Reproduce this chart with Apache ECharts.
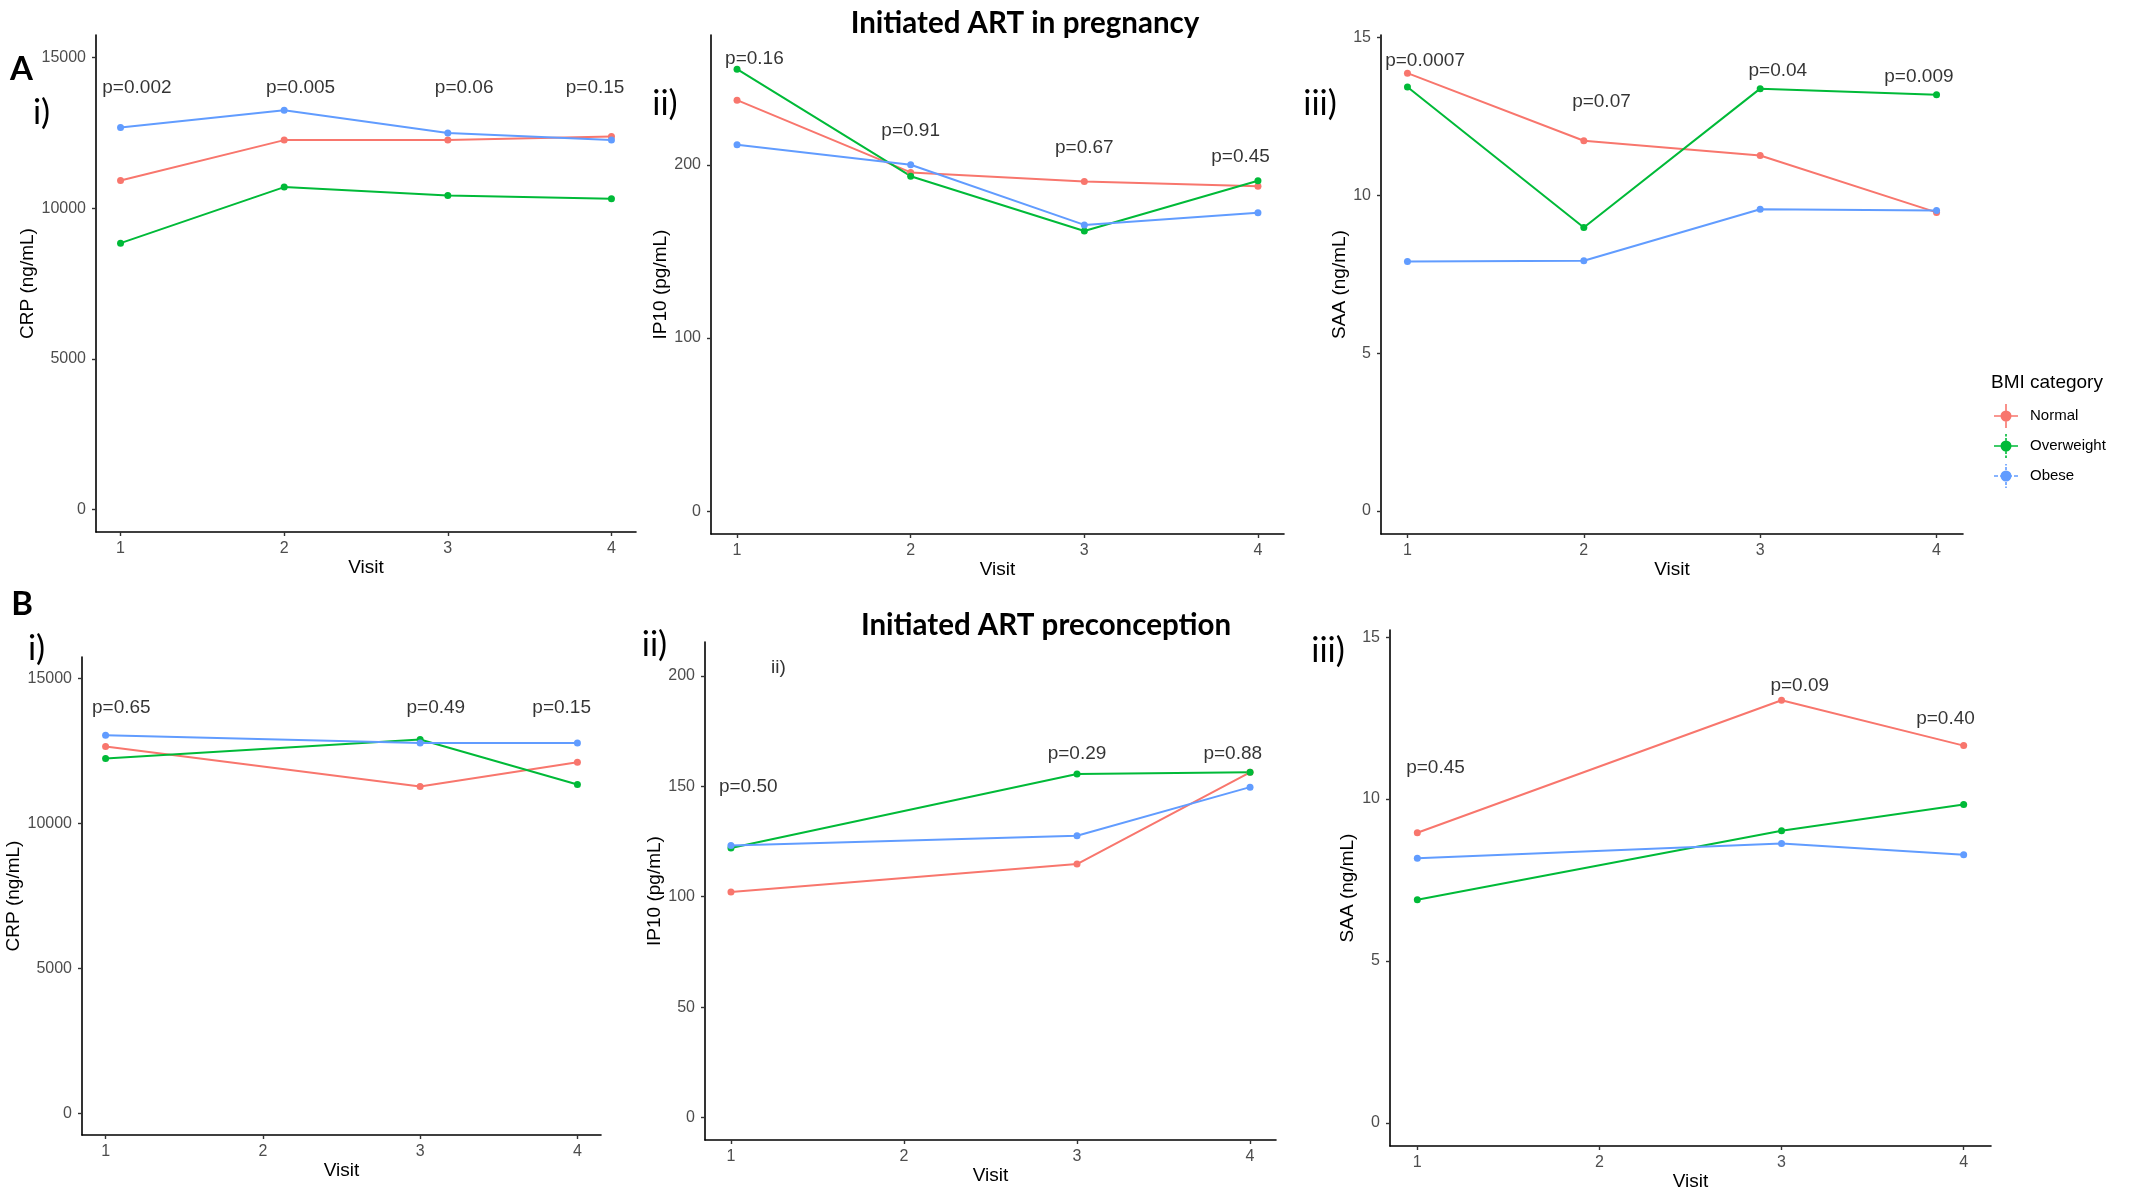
<!DOCTYPE html>
<html>
<head>
<meta charset="utf-8">
<script src="https://cdn.jsdelivr.net/npm/echarts@6/dist/echarts.min.js"></script>
<style>
  html, body { margin: 0; padding: 0; background: #fff; }
  #chart { width: 2129px; height: 1192px; }
</style>
</head>
<body>
<div id="chart"></div>
<script>
// visits
const visitsA = [1, 2, 3, 4];
const visitsB = [1, 3, 4];

// A i) CRP (ng/mL) - initiated ART in pregnancy
const crpA_normal = [10920, 12260, 12260, 12380];
const crpA_overweight = [8840, 10700, 10420, 10310];
const crpA_obese = [12680, 13250, 12500, 12260];
// A ii) IP10 (pg/mL)
const ip10A_normal = [237.3, 195.6, 190.4, 187.6];
const ip10A_overweight = [255.2, 193.4, 161.8, 190.8];
const ip10A_obese = [211.6, 200.0, 165.3, 172.3];
// A iii) SAA (ng/mL)
const saaA_normal = [13.87, 11.73, 11.26, 9.46];
const saaA_overweight = [13.43, 8.98, 13.38, 13.19];
const saaA_obese = [7.90, 7.93, 9.56, 9.52];

// B i) CRP - initiated ART preconception
const crpB_normal = [12660, 11280, 12120];
const crpB_overweight = [12250, 12900, 11350];
const crpB_obese = [13050, 12780, 12780];
// B ii) IP10
const ip10B_normal = [102.2, 114.8, 156.3];
const ip10B_overweight = [122.1, 155.6, 156.3];
const ip10B_obese = [123.2, 127.6, 149.6];
// B iii) SAA
const saaB_normal = [8.96, 13.05, 11.65];
const saaB_overweight = [6.89, 9.02, 9.83];
const saaB_obese = [8.17, 8.63, 8.28];

// p-value annotations (text, x in visit units, y in data units)
const pA1_text = ['p=0.002', 'p=0.005', 'p=0.06', 'p=0.15'];
const pA1_x = [1.1, 2.1, 3.1, 3.9];
const pA1_y = [14000, 14000, 14000, 14000];
const pA2_text = ['p=0.16', 'p=0.91', 'p=0.67', 'p=0.45'];
const pA2_x = [1.1, 2, 3, 3.9];
const pA2_y = [261.4, 219.4, 209.6, 204.6];
const pA3_text = ['p=0.0007', 'p=0.07', 'p=0.04', 'p=0.009'];
const pA3_x = [1.1, 2.1, 3.1, 3.9];
const pA3_y = [14.27, 12.95, 13.96, 13.75];
const pB1_text = ['p=0.65', 'p=0.49', 'p=0.15'];
const pB1_x = [1.1, 3.1, 3.9];
const pB1_y = [14000, 14000, 14000];
const pB2_text = ['p=0.50', 'p=0.29', 'p=0.88'];
const pB2_x = [1.1, 3, 3.9];
const pB2_y = [150, 164.9, 164.9];
const pB3_text = ['p=0.45', 'p=0.09', 'p=0.40'];
const pB3_x = [1.1, 3.1, 3.9];
const pB3_y = [10.97, 13.49, 12.48];

// tick labels
const visitTicks = [1, 2, 3, 4];
const crpTicks = [0, 5000, 10000, 15000];
const ip10TicksA = [0, 100, 200];
const ip10TicksB = [0, 50, 100, 150, 200];
const saaTicks = [0, 5, 10, 15];

const groups = ['Normal', 'Overweight', 'Obese'];
const colors = ['#F8766D', '#00BA38', '#619CFF'];

const SANS = '"Liberation Sans", Arial, sans-serif';
const TITLE_FONT = 'Lato, "Open Sans", sans-serif';

// panel layout
const panels = [
  { box: [96, 35, 540, 497], y: [-750, 15750], ticks: crpTicks, name: 'CRP (ng/mL)', gap: 58, visits: visitsA,
    vals: [crpA_normal, crpA_overweight, crpA_obese], p: [pA1_text, pA1_x, pA1_y] },
  { box: [711, 35, 573, 499], y: [-13.1, 274.9], ticks: ip10TicksA, name: 'IP10 (pg/mL)', gap: 40, visits: visitsA,
    vals: [ip10A_normal, ip10A_overweight, ip10A_obese], p: [pA2_text, pA2_x, pA2_y] },
  { box: [1381, 35, 582, 499], y: [-0.73, 15.08], ticks: saaTicks, name: 'SAA (ng/mL)', gap: 31, visits: visitsA,
    vals: [saaA_normal, saaA_overweight, saaA_obese], p: [pA3_text, pA3_x, pA3_y] },
  { box: [82, 657, 519, 478], y: [-750, 15750], ticks: crpTicks, name: 'CRP (ng/mL)', gap: 55, visits: visitsB,
    vals: [crpB_normal, crpB_overweight, crpB_obese], p: [pB1_text, pB1_x, pB1_y] },
  { box: [705, 642, 571, 498], y: [-10.1, 215.3], ticks: ip10TicksB, name: 'IP10 (pg/mL)', gap: 40, visits: visitsB,
    vals: [ip10B_normal, ip10B_overweight, ip10B_obese], p: [pB2_text, pB2_x, pB2_y] },
  { box: [1390, 630, 601, 516], y: [-0.714, 15.22], ticks: saaTicks, name: 'SAA (ng/mL)', gap: 33, visits: visitsB,
    vals: [saaB_normal, saaB_overweight, saaB_obese], p: [pB3_text, pB3_x, pB3_y] },
];

const axisLine = { show: true, onZero: false, lineStyle: { color: '#000', width: 1.6 } };
const axisTick = { show: true, length: 4, lineStyle: { color: '#333', width: 1.4 } };

const grid = [], xAxis = [], yAxis = [], series = [];
panels.forEach((pn, i) => {
  grid.push({ left: pn.box[0], top: pn.box[1], width: pn.box[2], height: pn.box[3], containLabel: false });
  xAxis.push({
    type: 'value', gridIndex: i, min: 0.85, max: 4.15,
    name: 'Visit', nameLocation: 'middle', nameGap: 25,
    nameTextStyle: { fontFamily: SANS, fontSize: 19, color: '#000' },
    axisLine: axisLine,
    axisTick: Object.assign({ customValues: visitTicks }, axisTick),
    axisLabel: { customValues: visitTicks, margin: 9, fontFamily: SANS, fontSize: 16, color: '#4D4D4D' },
    splitLine: { show: false }
  });
  yAxis.push({
    type: 'value', gridIndex: i, min: pn.y[0], max: pn.y[1],
    name: pn.name, nameLocation: 'middle', nameGap: pn.gap, nameRotate: 90,
    nameTextStyle: { fontFamily: SANS, fontSize: 19, color: '#000' },
    axisLine: axisLine,
    axisTick: Object.assign({ customValues: pn.ticks }, axisTick),
    axisLabel: { customValues: pn.ticks, margin: 10, fontFamily: SANS, fontSize: 16, color: '#4D4D4D',
      formatter: v => String(v) },
    splitLine: { show: false }
  });
  pn.vals.forEach((vals, g) => {
    series.push({
      type: 'line', name: groups[g], xAxisIndex: i, yAxisIndex: i,
      data: pn.visits.map((v, k) => [v, vals[k]]),
      symbol: 'circle', symbolSize: 7, showSymbol: true,
      lineStyle: { color: colors[g], width: 2 },
      itemStyle: { color: colors[g] },
      z: 3
    });
  });
  series.push({
    type: 'scatter', xAxisIndex: i, yAxisIndex: i, silent: true, symbolSize: 0,
    data: pn.p[0].map((t, k) => [pn.p[1][k], pn.p[2][k], t]),
    label: { show: true, position: 'inside', formatter: p => p.data[2],
      fontFamily: SANS, fontSize: 19, color: '#000' },
    z: 4
  });
});

// legend glyphs (point + range line)
const circ = 'M17.5 12A5.5 5.5 0 1 1 6.5 12A5.5 5.5 0 1 1 17.5 12Z';
const hbar = 'M0 11.2h24v1.6h-24Z';
const iconNormal = 'path://' + hbar + 'M11.2 0h1.6v24h-1.6Z' + circ;
const iconOver = 'path://' + hbar + 'M11.2 0h1.6v2.5h-1.6Z M11.2 4h1.6v2.5h-1.6Z M11.2 17.5h1.6v2.5h-1.6Z M11.2 21.5h1.6v2.5h-1.6Z' + circ;
const iconObese = 'path://M0 11.2h4v1.6h-4Z M6 11.2h12v1.6h-12Z M20 11.2h4v1.6h-4Z M11.2 0h1.6v1.5h-1.6Z M11.2 3h1.6v3h-1.6Z M11.2 18h1.6v3h-1.6Z M11.2 22.5h1.6v1.5h-1.6Z' + circ;

function label(text, x, y, size, weight, font, align, fill) {
  return { type: 'text', x: x, y: y, silent: true,
    style: { text: text, fontSize: size, fontWeight: weight, fontFamily: font,
      align: align || 'center', verticalAlign: 'middle', fill: fill || '#000' } };
}

const option = {
  animation: false,
  backgroundColor: '#fff',
  grid: grid, xAxis: xAxis, yAxis: yAxis, series: series,
  legend: {
    orient: 'vertical', left: 1994, top: 404, padding: 0, itemWidth: 24, itemHeight: 24, itemGap: 6,
    data: [
      { name: 'Normal', icon: iconNormal },
      { name: 'Overweight', icon: iconOver },
      { name: 'Obese', icon: iconObese }
    ],
    textStyle: { fontFamily: SANS, fontSize: 15, color: '#000', padding: [0, 0, 0, 7] }
  },
  graphic: [
    label('Initiated ART in pregnancy', 1025, 23, 29.5, 'bold', TITLE_FONT),
    label('Initiated ART preconception', 1046, 625, 29.5, 'bold', TITLE_FONT),
    label('A', 21.5, 69, 33, 'bold', TITLE_FONT),
    label('B', 22, 604.5, 33, 'bold', TITLE_FONT),
    label('i)', 41.5, 113, 34, 'normal', TITLE_FONT),
    label('ii)', 665, 104, 34, 'normal', TITLE_FONT),
    label('iii)', 1320, 104, 34, 'normal', TITLE_FONT),
    label('i)', 36.5, 649, 34, 'normal', TITLE_FONT),
    label('ii)', 654.5, 645, 34, 'normal', TITLE_FONT),
    label('iii)', 1328, 651, 34, 'normal', TITLE_FONT),
    label('ii)', 778.5, 668, 19, 'normal', SANS, 'center', '#333'),
    label('BMI category', 1991, 383, 19, 'normal', SANS, 'left', '#000')
  ]
};

const chart = echarts.init(document.getElementById('chart'));
chart.setOption(option);
window.onresize = chart.resize;
</script>
</body>
</html>
